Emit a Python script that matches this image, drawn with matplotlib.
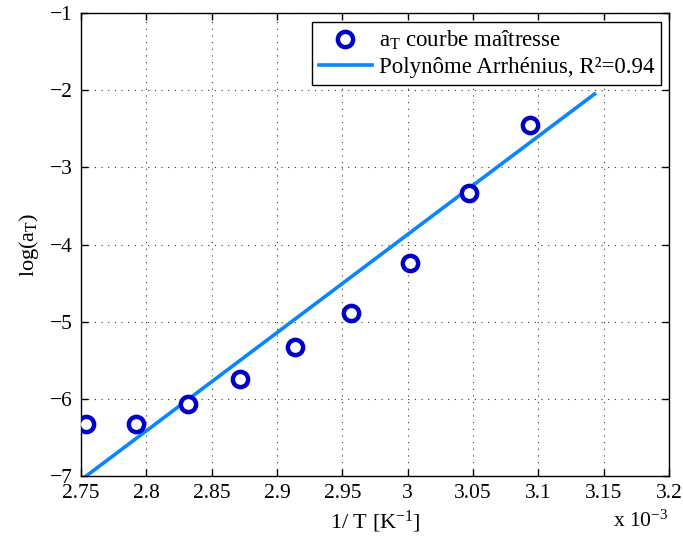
import matplotlib
matplotlib.use('Agg')
import matplotlib.pyplot as plt

# data (x in units of 1e-3 K^-1)
inv_T = [2.754, 2.792, 2.832, 2.872, 2.914, 2.957, 3.002, 3.047, 3.094]
log_aT = [-6.33, -6.33, -6.063, -5.747, -5.324, -4.892, -4.244, -3.337, -2.451]
fit_x = [2.754, 3.143]
fit_y = [-7.0, -2.05]

xticks = [2.75, 2.8, 2.85, 2.9, 2.95, 3.0, 3.05, 3.1, 3.15, 3.2]
xticklabels = ['2.75', '2.8', '2.85', '2.9', '2.95', '3', '3.05', '3.1', '3.15', '3.2']
yticks = [-7, -6, -5, -4, -3, -2, -1]
yticklabels = ['\u22127', '\u22126', '\u22125', '\u22124', '\u22123', '\u22122', '\u22121']

plt.rcParams['font.family'] = ['Liberation Serif', 'DejaVu Serif']
plt.rcParams['mathtext.fontset'] = 'custom'
plt.rcParams['mathtext.rm'] = 'Liberation Serif'
plt.rcParams['mathtext.it'] = 'Liberation Serif:italic'
plt.rcParams['font.size'] = 15

W, H = 683, 539
fig = plt.figure(figsize=(W / 100, H / 100), dpi=100)
L, R, T, B = 81, 669, 13, 476
ax = fig.add_axes([L / W, (H - B) / H, (R - L) / W, (B - T) / H])

ax.plot(inv_T, log_aT, linestyle='none', marker='o', markersize=11,
        markerfacecolor='white', markeredgecolor='#0000C8', markeredgewidth=3.2,
        label='a$_\\mathregular{T}$ courbe maîtresse', zorder=3)
ax.plot(fit_x, fit_y, color='#0A84FF', linewidth=2.6,
        label='Polynôme Arrhénius, R²=0.94', zorder=2)

ax.set_xlim(2.75, 3.2)
ax.set_ylim(-7, -1)
ax.set_xticks(xticks)
ax.set_xticklabels(xticklabels)
ax.set_yticks(yticks)
ax.set_yticklabels(yticklabels)
ax.tick_params(direction='in', length=5, width=1, top=True, right=True,
               labelsize=15.5, pad=6, colors='black')
ax.grid(True, linestyle=(0, (1, 5)), color='#333333', linewidth=0.8)
for s in ax.spines.values():
    s.set_linewidth(1.0)
    s.set_color('black')

ax.set_xlabel('1/ T [K$^{-1}$]', fontsize=16, labelpad=4)
ax.set_ylabel('log(a$_\\mathregular{T}$)', fontsize=16, labelpad=6)

fig.text(613 / W, 1 - 521 / H, 'x 10$^{-3}$', fontsize=15.5, ha='left', va='center')

leg = ax.legend(loc='upper right', bbox_to_anchor=(661 / W, 1 - 22 / H),
                bbox_transform=fig.transFigure, borderaxespad=0,
                fancybox=False, framealpha=1, edgecolor='black',
                handlelength=2.3, handletextpad=0.3, labelspacing=0.2,
                borderpad=0.3, fontsize=16.5)
leg.get_frame().set_linewidth(1.0)

fig.savefig('out.png', dpi=100)
